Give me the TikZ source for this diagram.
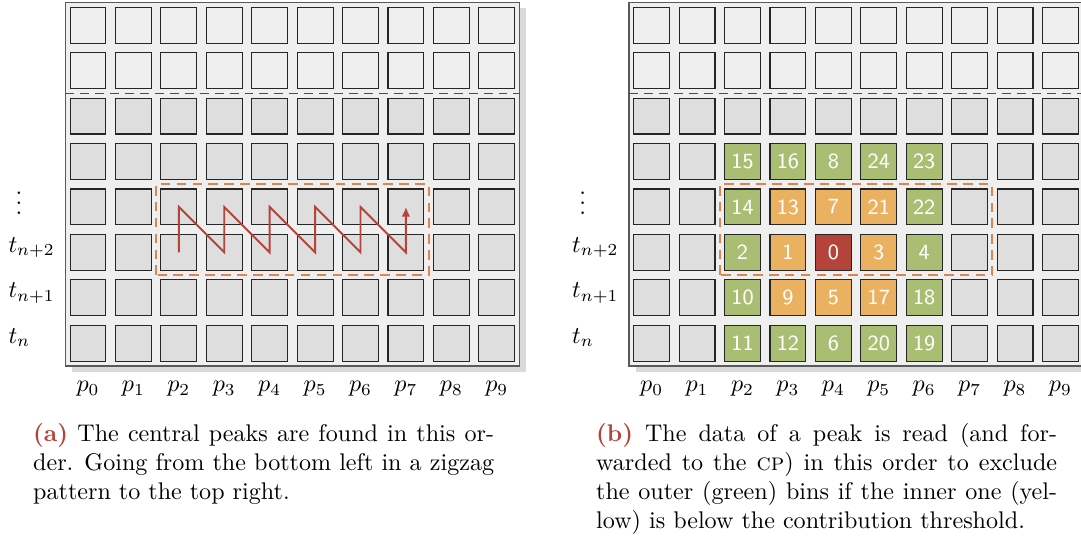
\documentclass[tikz,border=0pt]{standalone}
\usepackage{amsmath,amssymb}
\usepackage{tikz}
\usetikzlibrary{arrows.meta,positioning}
\definecolor{BinGreen}{RGB}{170,190,115}
\definecolor{BinYellow}{RGB}{234,178,96}
\definecolor{PeakRed}{RGB}{180,68,58}
\definecolor{ZoneOrange}{RGB}{221,132,82}
\definecolor{BinGray}{RGB}{222,222,222}
\definecolor{BinLight}{RGB}{239,239,239}
\definecolor{ShadowGray}{RGB}{218,218,218}

\begin{document}
\begin{tikzpicture}[x=18.85pt,y=18.85pt,>={Latex[length=4pt,width=3.6pt]},
    bin/.style={draw=black!85,line width=0.45pt,fill=BinGray,minimum size=14.9pt,inner sep=0pt},
    topbin/.style={bin,fill=BinLight},
    hitbin/.style={bin,text=white,font=\sffamily\small},
    frame/.style={draw=black!65,line width=0.6pt,fill=BinLight},
    split/.style={black!70,line width=0.6pt,dash pattern=on 3.7pt off 2.5pt},
    zone/.style={ZoneOrange,line width=0.9pt,dash pattern=on 4pt off 2.6pt},
    caption/.style={anchor=base west,inner sep=0pt,text width=191.3pt,align=justify}]
  \useasboundingbox (-1.9375,-4.355) rectangle (21.863,7.556);

  % (a) order in which the central peaks are searched
  \fill[ShadowGray] (-0.35,-0.63) rectangle (9.65,7.37);
  \draw[frame] (-0.5,-0.5) rectangle (9.5,7.5);
  \foreach \i in {0,...,9} \foreach \j in {6,7}
    \node[topbin] (a-\i-\j) at (\i,\j) {};
  \foreach \i in {0,...,9} \foreach \j in {0,...,5}
    \node[bin] (a-\i-\j) at (\i,\j) {};
  \draw[split] (-0.5,5.5) -- (9.5,5.5);
  \draw[zone] (1.5,1.5) rectangle (7.5,3.5);
  \draw[->,PeakRed,line width=0.8pt] (a-2-2.center) -- (a-2-3.center)
    -- (a-3-2.center) -- (a-3-3.center) -- (a-4-2.center) -- (a-4-3.center)
    -- (a-5-2.center) -- (a-5-3.center) -- (a-6-2.center) -- (a-6-3.center)
    -- (a-7-2.center) -- (a-7-3.center);
  \foreach \i in {0,...,9}
    \node[anchor=base] (pa-\i) at (\i,-1.07) {$p_{\i}$};
  \node[anchor=base west,inner sep=0pt] (ta-0) at (-1.76,0) {$t_n$};
  \node[anchor=base west,inner sep=0pt] (ta-1) at (-1.76,1) {$t_{n+1}$};
  \node[anchor=base west,inner sep=0pt] (ta-2) at (-1.76,2) {$t_{n+2}$};
  \node[anchor=base,inner sep=0pt] (ta-3) at (-1.52,2.84) {$\vdots$};
  \node[caption] (capa) at (-1.2175,-2.17)
    {\textcolor{PeakRed}{\textbf{(a)}} The central peaks are found in this or-\linebreak
     der. Going from the bottom left in a zigzag\linebreak
     pattern to the top right.};

  % (b) order in which the data of a peak is read
  \begin{scope}[shift={(12.41,0)}]
    \fill[ShadowGray] (-0.35,-0.63) rectangle (9.65,7.37);
    \draw[frame] (-0.5,-0.5) rectangle (9.5,7.5);
    \foreach \i in {0,...,9} \foreach \j in {6,7}
      \node[topbin] (b-\i-\j) at (\i,\j) {};
    \foreach \i in {0,1,7,8,9} \foreach \j in {0,...,5}
      \node[bin] (b-\i-\j) at (\i,\j) {};
    \foreach \i in {2,...,6}
      \node[bin] (b-\i-5) at (\i,5) {};
    \foreach \i/\j/\n/\c in {2/0/11/BinGreen,3/0/12/BinGreen,4/0/6/BinGreen,
        5/0/20/BinGreen,6/0/19/BinGreen,
        2/1/10/BinGreen,3/1/9/BinYellow,4/1/5/BinYellow,5/1/17/BinYellow,6/1/18/BinGreen,
        2/2/2/BinGreen,3/2/1/BinYellow,4/2/0/PeakRed,5/2/3/BinYellow,6/2/4/BinGreen,
        2/3/14/BinGreen,3/3/13/BinYellow,4/3/7/BinYellow,5/3/21/BinYellow,6/3/22/BinGreen,
        2/4/15/BinGreen,3/4/16/BinGreen,4/4/8/BinGreen,5/4/24/BinGreen,6/4/23/BinGreen}
      \node[hitbin,fill=\c] (b-\i-\j) at (\i,\j) {\n};
    \draw[split] (-0.5,5.5) -- (9.5,5.5);
    \draw[zone] (1.5,1.5) rectangle (7.5,3.5);
    \foreach \i in {0,...,9}
      \node[anchor=base] (pb-\i) at (\i,-1.07) {$p_{\i}$};
    \node[anchor=base west,inner sep=0pt] (tb-0) at (-1.76,0) {$t_n$};
    \node[anchor=base west,inner sep=0pt] (tb-1) at (-1.76,1) {$t_{n+1}$};
    \node[anchor=base west,inner sep=0pt] (tb-2) at (-1.76,2) {$t_{n+2}$};
    \node[anchor=base,inner sep=0pt] (tb-3) at (-1.52,2.84) {$\vdots$};
    \node[caption] (capb) at (-1.232,-2.165)
      {\textcolor{PeakRed}{\textbf{(b)}} The data of a peak is read (and for-\linebreak
       warded to the \textsc{cp}) in this order to exclude\linebreak
       the outer (green) bins if the inner one (yel-\linebreak
       low) is below the contribution threshold.};
  \end{scope}
\end{tikzpicture}
\end{document}
